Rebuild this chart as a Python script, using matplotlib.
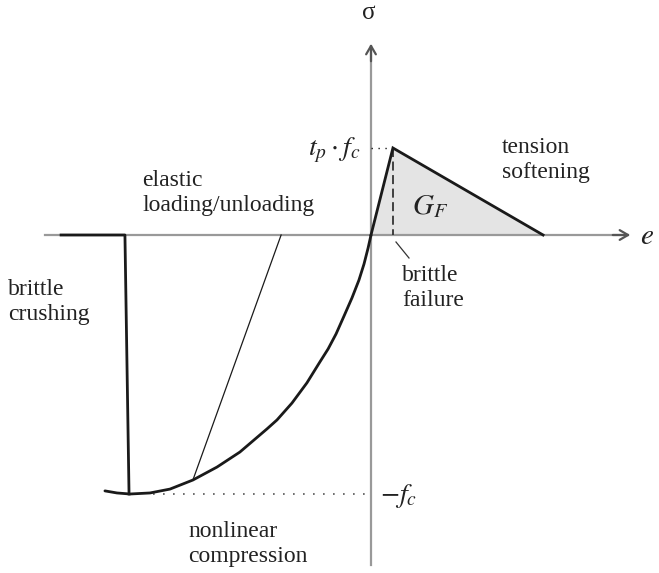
import numpy as np
import matplotlib
matplotlib.use("Agg")
import matplotlib.pyplot as plt

plt.rcParams['font.family'] = ['Liberation Serif', 'DejaVu Serif']
plt.rcParams['mathtext.fontset'] = 'stix'

# strain in units of eps_c, stress in units of f_c
comp_eps = [0.0, -0.012, -0.029, -0.050, -0.079, -0.112, -0.145, -0.178,
            -0.212, -0.266, -0.328, -0.390, -0.432, -0.544, -0.639, -0.739,
            -0.834, -0.917, -1.0, -1.054, -1.104]
comp_sig = [0.0, -0.050, -0.112, -0.174, -0.243, -0.313, -0.382, -0.440,
            -0.490, -0.571, -0.649, -0.714, -0.749, -0.838, -0.896, -0.946,
            -0.981, -0.996, -1.0, -0.996, -0.988]

# tension branch: linear up to t_p*f_c, then linear softening
tens_eps = [0.0, 0.091, 0.714]
tens_sig = [0.0, 0.336, 0.0]

# elastic unloading line
unload_eps = [-0.373, -0.739]
unload_sig = [0.0, -0.946]

# brittle crushing drop and residual
crush_eps = [-1.286, -1.021, -1.004]
crush_sig = [0.0, 0.0, -1.0]

fc = 1.0
tp_fc = 0.336
eps_peak = 0.091

# pixel layout helpers
W, H = 659, 573
X0, Y0, SX, SY = 371, 235, 241, 259


def px(x, y):
    return (x - X0) / SX, -(y - Y0) / SY


fig = plt.figure(figsize=(W / 100, H / 100), dpi=100)
ax = fig.add_axes([0, 0, 1, 1])
ax.set_xlim(px(0, 0)[0], px(W, 0)[0])
ax.set_ylim(px(0, H)[1], px(0, 0)[1])
ax.axis('off')

axis_col = '#999999'
ink = '#1a1a1a'

# axes with open arrowheads
ax.plot([px(45, 0)[0], px(628, 0)[0]], [0, 0], color=axis_col, lw=1.6, zorder=1)
ax.plot([0, 0], [px(0, 565)[1], px(0, 46)[1]], color=axis_col, lw=1.6, zorder=1)
ax.annotate('', xy=px(633, Y0), xytext=px(610, Y0),
            arrowprops=dict(arrowstyle='->,head_length=0.6,head_width=0.35',
                            color='#555555', lw=1.6))
ax.annotate('', xy=px(X0, 41), xytext=px(X0, 64),
            arrowprops=dict(arrowstyle='->,head_length=0.6,head_width=0.35',
                            color='#555555', lw=1.6))

# fracture energy area
ax.fill(tens_eps, tens_sig, color='#e4e4e4', zorder=0)

ax.plot(comp_eps, comp_sig, color=ink, lw=2.0, solid_capstyle='round',
        solid_joinstyle='round', zorder=3)
ax.plot(tens_eps, tens_sig, color=ink, lw=2.0, solid_joinstyle='miter', zorder=3)
ax.plot(unload_eps, unload_sig, color=ink, lw=0.9, zorder=3)
ax.plot(crush_eps, crush_sig, color=ink, lw=2.0, zorder=3)

# reference lines
ax.plot([0, eps_peak], [tp_fc, tp_fc], color=ink, lw=1.0,
        linestyle=(0, (1, 4)), zorder=2)
ax.plot([px(153, 0)[0], 0], [-fc, -fc], color='#555555', lw=1.2,
        linestyle=(0, (1, 5)), zorder=2)
ax.plot([eps_peak, eps_peak], [tp_fc, 0], color='#333333', lw=1.3,
        linestyle=(0, (5, 2.5)), zorder=2)

# pointer for brittle failure
ax.plot(*zip(px(396, 242), px(409, 258)), color='#333333', lw=0.9)

fs = 17
tc = '#222222'
ax.text(*px(369, 13), 'σ', fontsize=18, ha='center', va='center', color=tc)
ax.text(*px(640, 237), '$e$', fontsize=21, ha='left', va='center', color=tc)
ax.text(*px(361, 150), r'$t_p\cdot f_c$', fontsize=20, ha='right',
        va='center', color=tc)
ax.text(*px(380, 496), r'$-f_c$', fontsize=20, ha='left', va='center', color=tc)
ax.text(*px(412, 207), r'$G_F$', fontsize=21, ha='left', va='center', color=tc)
ax.text(*px(502, 160), 'tension\nsoftening', fontsize=fs, ha='left',
        va='center', color=tc, linespacing=1.2)
ax.text(*px(142, 193), 'elastic\nloading/unloading', fontsize=fs, ha='left',
        va='center', color=tc, linespacing=1.2)
ax.text(*px(402, 288), 'brittle\nfailure', fontsize=fs, ha='left',
        va='center', color=tc, linespacing=1.2)
ax.text(*px(8, 302), 'brittle\ncrushing', fontsize=fs, ha='left',
        va='center', color=tc, linespacing=1.2)
ax.text(*px(188, 544), 'nonlinear\ncompression', fontsize=fs, ha='left',
        va='center', color=tc, linespacing=1.2)

fig.savefig('out.png', dpi=100)
